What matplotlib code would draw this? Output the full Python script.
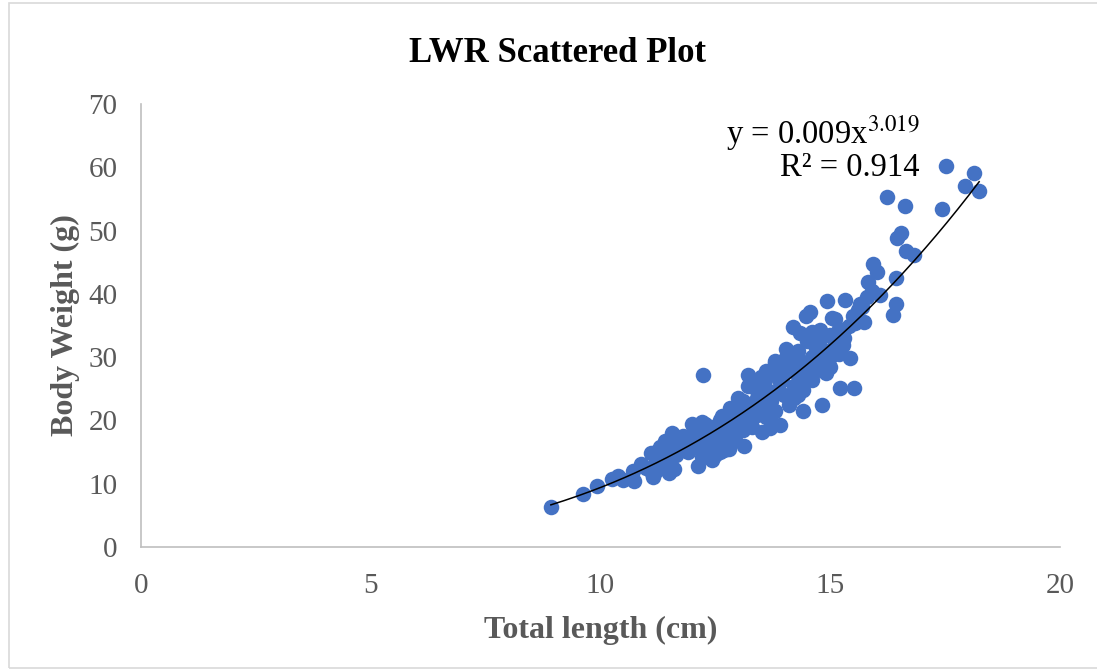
import matplotlib

matplotlib.use("Agg")
import matplotlib.pyplot as plt
import numpy as np
from matplotlib.patches import Rectangle

# total length (cm) and body weight (g)
length_cm = [
    8.92, 9.62, 9.92, 10.25, 10.38, 10.5, 10.7, 10.73, 10.88, 11.12, 11.2, 11.3,
    11.14, 11.38, 11.5, 11.56, 11.64, 11.8, 11.95, 12.12, 12.12, 12.23, 12.27,
    12.38, 12.43, 12.56, 12.64, 12.69, 12.82, 12.93, 13.04, 13.12, 13.21, 13.3,
    13.36, 13.51, 13.58, 13.69, 13.8, 13.9, 13.95, 14.04, 14.19, 14.28, 14.34,
    14.41, 14.47, 14.56, 14.6, 14.67, 14.78, 14.82, 14.91, 14.93, 15.04, 15.1,
    15.21, 15.28, 15.32, 15.43, 15.52, 15.54, 15.65, 15.73, 15.82, 15.93, 16.02,
    16.08, 16.24, 16.37, 16.43, 16.43, 16.45, 16.54, 16.63, 16.65, 16.82, 17.43,
    17.52, 17.93, 18.13, 18.24,
    11.0, 11.1, 11.2, 11.3, 11.4, 11.5, 11.5, 11.6, 11.7, 11.8, 11.9, 11.9,
    11.4, 11.2, 11.6,
    12.0, 12.1, 12.2, 12.2, 12.3, 12.4, 12.4, 12.5, 12.5, 12.6, 12.6, 12.7,
    12.7, 12.8, 12.8, 12.9, 12.9, 12.3, 12.6, 12.8, 12.0, 12.2,
    13.0, 13.0, 13.1, 13.1, 13.2, 13.2, 13.3, 13.3, 13.4, 13.4, 13.5, 13.5,
    13.6, 13.6, 13.7, 13.7, 13.8, 13.8, 13.9, 13.9, 13.4, 13.6, 13.2, 13.0,
    13.7, 13.8, 13.5,
    14.0, 14.0, 14.1, 14.1, 14.2, 14.2, 14.3, 14.3, 14.4, 14.4, 14.5, 14.5,
    14.6, 14.6, 14.7, 14.7, 14.8, 14.8, 14.9, 14.9, 14.2, 14.4, 14.0, 14.6,
    14.3,
    15.0, 15.0, 15.1, 15.2, 15.2, 15.3, 15.4, 15.5, 15.6, 15.7, 15.8, 15.9,
    15.0, 15.1,
]
weight_g = [
    6.3, 8.4, 9.6, 10.7, 11.2, 10.6, 12.0, 10.4, 13.1, 11.7, 13.7, 15.8,
    11.1, 12.5, 11.7, 18.0, 14.5, 17.5, 16.9, 19.1, 12.8, 27.2, 19.4,
    15.3, 13.7, 18.2, 20.7, 15.3, 22.0, 16.9, 22.4, 16.0, 27.2, 22.4,
    25.1, 18.2, 26.4, 18.8, 29.4, 19.3, 26.7, 31.3, 34.8, 30.3, 33.8,
    21.5, 36.5, 37.1, 26.4, 32.7, 34.3, 22.4, 27.5, 38.9, 36.2, 30.8,
    25.1, 31.9, 39.0, 29.9, 25.1, 35.4, 38.4, 35.5, 41.9, 44.7, 43.4,
    39.8, 55.3, 36.7, 42.5, 38.4, 48.8, 49.6, 53.9, 46.8, 46.1, 53.4,
    60.2, 57.0, 59.1, 56.2,
    12.5, 14.8, 15.0, 13.2, 14.0, 15.5, 13.0, 16.2, 15.2, 16.0, 17.2, 15.0,
    16.8, 12.0, 12.3,
    17.8, 15.8, 18.0, 14.2, 16.5, 17.8, 19.0, 16.2, 14.5, 17.5, 15.0, 19.0,
    16.5, 18.5, 15.5, 20.5, 17.8, 14.8, 20.0, 21.0, 19.5, 19.8,
    19.5, 21.5, 18.5, 23.0, 20.0, 25.5, 21.5, 19.0, 23.5, 26.0, 22.0, 24.5,
    20.5, 25.0, 23.0, 27.5, 24.5, 21.5, 26.0, 28.5, 20.8, 27.8, 22.5, 23.5,
    19.8, 29.0, 26.8,
    24.0, 27.5, 22.5, 30.0, 25.5, 28.5, 24.0, 31.0, 26.5, 29.0, 28.0, 32.5,
    30.0, 27.5, 31.5, 29.0, 28.0, 33.0, 31.0, 29.5, 23.5, 24.8, 29.5, 34.0,
    27.0,
    30.0, 33.5, 32.0, 34.5, 30.5, 33.0, 35.0, 36.5, 37.5, 38.0, 39.5, 40.5,
    28.5, 36.0,
]

# power trendline coefficients shown on the chart
coef_a = 0.009
coef_b = 3.019
r_squared = 0.914

plt.rcParams["font.family"] = ["Liberation Serif", "DejaVu Serif"]
plt.rcParams["mathtext.fontset"] = "stix"

fig = plt.figure(figsize=(10.97, 6.71), dpi=100)
ax = fig.add_axes([0.1285, 0.1848, 0.8378, 0.6602])

ax.scatter(length_cm, weight_g, s=125, color="#4472C4", linewidths=0, zorder=2)

xs = np.linspace(min(length_cm), max(length_cm), 200)
ax.plot(xs, coef_a * xs ** coef_b, color="black", linewidth=1.1, zorder=3)

ax.set_xlim(0, 20)
ax.set_ylim(0, 70)
ax.set_xticks([0, 5, 10, 15, 20])
ax.set_yticks(range(0, 71, 10))
ax.tick_params(length=0, labelsize=21, colors="#595959")
ax.tick_params(axis="y", pad=17)
ax.tick_params(axis="x", pad=19)
for side in ("top", "right"):
    ax.spines[side].set_visible(False)
for side in ("left", "bottom"):
    ax.spines[side].set_color("#BFBFBF")
    ax.spines[side].set_linewidth(1.2)

ax.set_xlabel("Total length (cm)", fontsize=23, fontweight="bold",
              color="#595959", labelpad=12)
ax.set_ylabel("Body Weight (g)", fontsize=23, fontweight="bold",
              color="#595959", labelpad=6)
fig.text(0.508, 0.92, "LWR Scattered Plot", fontsize=25, fontweight="bold",
         ha="center", va="center")

ax.text(16.95, 65.4, "y = %.3fx$^{%.3f}$" % (coef_a, coef_b), fontsize=23.5,
        ha="right", va="center")
ax.text(16.95, 60.0, "R² = %.3f" % r_squared, fontsize=23.5,
        ha="right", va="center")

fig.patches.append(Rectangle((0.008, 0.005), 1.0, 0.99, transform=fig.transFigure,
                             fill=False, edgecolor="#D9D9D9", linewidth=1.2))

fig.savefig("out.png", dpi=100)
plt.close(fig)
